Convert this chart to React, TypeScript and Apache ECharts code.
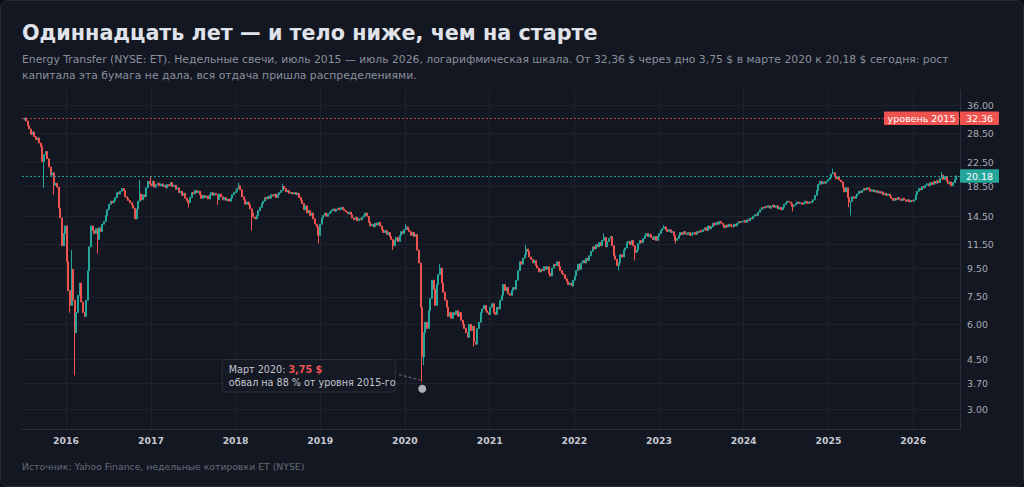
import React, { useEffect, useRef } from 'react';
import * as echarts from 'echarts';

const FONT = "'DejaVu Sans', sans-serif";

// ---- DATA (weekly closes, weeks start on Monday 2015-07-06) ----
const START_DATE = '2015-07-06';
const firstOpen = 31.8;

const closes2015 = [32.36, 31.6, 30.4, 29.6, 28.3, 28.9, 27.8, 27.1, 27.5, 26.4, 25.6, 22.7, 24.0, 24.6, 23.2, 21.7, 20.3, 20.7, 18.7, 19.0, 18.4, 15.5, 14.3, 11.4, 12.6, 13.4];
const closes2016 = [10.0, 7.9, 7.0, 9.4, 7.3, 5.6, 6.6, 7.6, 8.4, 7.2, 6.6, 6.4, 7.3, 9.3, 11.3, 13.4, 12.9, 12.6, 13.1, 12.0, 13.2, 12.8, 13.6, 13.9, 14.6, 15.3, 16.0, 16.4, 16.2, 16.5, 16.9, 17.6, 17.4, 17.8, 18.2, 17.9, 17.0, 16.8, 16.5, 16.2, 15.9, 15.5, 14.2, 15.4, 16.4, 17.4, 16.6, 17.3, 17.0, 18.3, 19.3, 18.9];
const closes2017 = [18.6, 19.3, 18.4, 18.8, 19.0, 18.6, 18.9, 18.5, 18.7, 18.3, 18.8, 18.6, 19.1, 18.5, 18.7, 18.1, 18.3, 17.6, 17.8, 17.2, 17.5, 16.8, 16.5, 16.2, 16.9, 17.6, 17.4, 17.9, 17.6, 17.8, 17.3, 16.8, 17.2, 16.9, 17.1, 16.7, 17.3, 17.6, 17.2, 17.5, 17.3, 16.6, 17.4, 17.0, 16.6, 16.9, 16.5, 16.7, 16.4, 16.8, 17.3, 17.6];
const closes2018 = [17.8, 18.2, 18.6, 18.0, 17.0, 16.6, 16.0, 16.3, 15.9, 15.4, 14.9, 14.4, 14.2, 14.6, 15.2, 15.6, 16.1, 16.4, 16.9, 16.7, 17.1, 16.8, 17.3, 17.1, 17.4, 16.9, 17.3, 17.6, 17.9, 18.5, 18.2, 17.7, 17.9, 17.5, 17.6, 17.4, 17.6, 17.3, 17.5, 16.9, 16.5, 16.1, 15.3, 15.8, 14.9, 15.2, 14.6, 14.9, 14.2, 13.6, 13.3, 12.4, 13.6];
const closes2019 = [14.3, 14.6, 14.9, 14.5, 14.8, 15.0, 15.2, 15.4, 15.1, 15.3, 15.5, 15.3, 15.6, 15.4, 15.2, 15.0, 14.8, 15.0, 14.7, 14.3, 14.1, 14.4, 14.0, 14.2, 14.1, 14.4, 14.6, 14.9, 14.5, 13.8, 13.4, 13.6, 13.3, 13.7, 13.5, 13.8, 13.4, 13.0, 12.7, 12.9, 12.5, 12.7, 12.3, 12.0, 11.4, 11.9, 12.2, 11.8, 12.4, 12.8, 12.6, 13.0];
const closes2020 = [13.3, 13.0, 12.8, 12.4, 12.7, 12.3, 12.5, 11.0, 9.9, 6.9, 4.6, 5.6, 6.1, 5.8, 6.7, 7.4, 8.6, 8.0, 7.0, 8.3, 9.0, 9.5, 8.4, 7.8, 7.3, 6.9, 6.4, 6.6, 6.3, 6.6, 6.5, 6.7, 6.4, 6.6, 6.2, 6.0, 5.8, 5.6, 5.4, 6.0, 5.7, 5.9, 5.2, 5.1, 5.8, 6.1, 6.6, 6.8, 7.0, 6.7, 6.6, 6.5];
const closes2021 = [6.9, 7.1, 6.6, 6.5, 6.9, 6.8, 7.3, 7.6, 8.3, 7.9, 8.1, 7.7, 7.6, 7.9, 8.1, 8.0, 8.6, 9.3, 10.0, 9.8, 10.3, 10.6, 11.1, 10.9, 10.4, 10.2, 9.9, 10.1, 9.7, 9.5, 9.2, 9.4, 9.3, 9.6, 9.4, 9.6, 9.1, 8.9, 9.5, 9.8, 9.7, 10.0, 9.6, 9.3, 9.1, 9.0, 8.7, 8.5, 8.3, 8.4, 8.2, 8.6];
const closes2022 = [8.9, 9.3, 9.8, 9.4, 9.9, 10.1, 9.9, 10.3, 10.1, 10.5, 10.9, 11.3, 11.1, 11.5, 11.3, 11.7, 11.4, 11.9, 12.2, 11.3, 11.8, 12.1, 12.3, 11.4, 10.5, 10.2, 9.7, 9.9, 10.6, 10.4, 11.0, 11.2, 11.7, 11.8, 11.5, 11.9, 11.4, 10.8, 11.0, 11.6, 11.9, 11.7, 12.1, 12.4, 12.6, 12.3, 12.5, 12.2, 12.0, 12.3, 11.9, 12.3];
const closes2023 = [12.6, 12.9, 13.1, 13.3, 13.0, 12.8, 13.0, 12.7, 12.8, 12.4, 11.9, 12.1, 12.4, 12.7, 12.5, 12.8, 12.6, 12.5, 12.7, 12.4, 12.6, 12.7, 12.5, 12.8, 12.7, 12.9, 12.8, 13.0, 13.2, 12.9, 13.4, 13.1, 13.3, 13.7, 13.5, 13.8, 13.6, 13.9, 13.7, 13.5, 13.2, 13.5, 13.3, 13.6, 13.4, 13.3, 13.6, 13.4, 13.7, 13.9, 13.8, 13.9];
const closes2024 = [14.0, 13.8, 14.1, 14.0, 14.3, 14.2, 14.5, 14.7, 14.6, 15.0, 15.3, 15.6, 15.5, 15.7, 15.6, 15.8, 15.5, 15.7, 15.9, 15.6, 15.8, 15.4, 15.6, 15.3, 15.6, 16.0, 16.2, 16.4, 16.3, 16.1, 15.7, 15.9, 16.1, 16.3, 16.1, 16.2, 16.0, 16.2, 16.4, 16.1, 16.3, 16.2, 16.4, 16.6, 17.2, 17.9, 18.8, 19.3, 18.9, 19.2, 19.0, 19.3, 19.6];
const closes2025 = [19.9, 20.5, 20.7, 20.1, 19.7, 20.0, 19.5, 19.2, 18.4, 17.7, 18.3, 16.9, 16.3, 16.4, 17.0, 16.8, 17.1, 17.4, 17.8, 17.6, 17.9, 18.2, 18.0, 18.3, 18.1, 17.8, 18.0, 17.7, 17.9, 17.6, 17.8, 17.5, 17.7, 17.3, 17.5, 17.2, 17.4, 17.1, 16.8, 16.5, 16.8, 16.6, 16.9, 16.7, 16.5, 16.8, 16.6, 16.4, 16.6, 16.3, 16.5, 16.4];
const closes2026 = [16.6, 17.3, 17.8, 18.2, 18.0, 18.5, 18.3, 18.7, 18.9, 18.6, 19.1, 18.8, 19.3, 19.0, 19.4, 19.1, 19.8, 20.3, 19.6, 20.1, 19.3, 18.9, 19.2, 18.6, 19.1, 19.6, 20.18];

// notable wicks beyond the candle bodies
const wickDates = ['2015-09-28', '2015-11-09', '2016-01-18', '2016-01-25', '2016-02-08', '2016-05-16', '2016-11-14', '2017-01-02', '2017-06-12', '2017-10-16', '2018-01-15', '2018-03-12', '2018-07-23', '2018-12-24', '2019-11-11', '2020-01-06', '2020-03-16', '2020-03-23', '2020-06-01', '2020-10-26', '2021-06-07', '2022-05-09', '2022-07-11', '2022-09-19', '2023-01-23', '2023-03-13', '2024-07-29', '2025-01-20', '2025-03-31', '2025-04-07', '2026-05-04'];
const wickLows = [18.3, 17.3, 6.6, null, 3.95, 10.7, null, null, 15.6, 15.9, null, 12.9, null, 11.6, 11.0, null, 3.75, 4.3, null, 5.0, null, null, 9.3, 10.1, null, 11.6, 15.1, null, 15.6, 14.6, null];
const wickHighs = [null, null, null, 11.0, null, null, 19.5, 20.1, null, null, 19.1, null, 18.9, null, null, 13.6, null, null, 9.8, null, 11.5, 12.6, null, null, 13.5, null, null, 21.4, null, null, 20.8];

const yTicks = [3, 3.7, 4.5, 6, 7.5, 9.5, 11.5, 14.5, 18.5, 22.5, 28.5, 36];
const yearTicks = ['2016-01-01', '2017-01-01', '2018-01-01', '2019-01-01', '2020-01-01', '2021-01-01', '2022-01-01', '2023-01-01', '2024-01-01', '2025-01-01', '2026-01-01'];
const level2015 = 32.36;
const lastPrice = 20.18;
const crashLow = 3.75;
const crashDate = '2020-03-16';
const yMin = 2.55;
const yMax = 40.7;
const xMinDate = '2015-06-25';
const xMaxDate = '2026-07-22';

const TITLE = 'Одиннадцать лет — и тело ниже, чем на старте';
const SUBTITLE = 'Energy Transfer (NYSE: ET). Недельные свечи, июль 2015 — июль 2026, логарифмическая шкала. От 32,36 $ через дно 3,75 $ в марте 2020 к 20,18 $ сегодня: рост\nкапитала эта бумага не дала, вся отдача пришла распределениями.';
const SOURCE = 'Источник: Yahoo Finance, недельные котировки ET (NYSE)';

const UP = '#26a69a';
const DOWN = '#ef5350';

const ts = (d: string) => Date.parse(d + 'T00:00:00Z');

function buildCandles() {
  const closes = [
    ...closes2015, ...closes2016, ...closes2017, ...closes2018, ...closes2019, ...closes2020,
    ...closes2021, ...closes2022, ...closes2023, ...closes2024, ...closes2025, ...closes2026,
  ];
  const start = ts(START_DATE);
  const out: any[] = [];
  for (let i = 0; i < closes.length; i++) {
    const t = start + i * 7 * 86400000;
    const key = new Date(t).toISOString().slice(0, 10);
    const open = i === 0 ? firstOpen : closes[i - 1];
    const close = closes[i];
    let low = Math.min(open, close);
    let high = Math.max(open, close);
    const w = wickDates.indexOf(key);
    if (w >= 0) {
      if (wickLows[w] != null) low = Math.min(low, wickLows[w] as number);
      if (wickHighs[w] != null) high = Math.max(high, wickHighs[w] as number);
    }
    out.push([t, open, close, low, high]);
  }
  return out;
}

export default function App() {
  const ref = useRef<HTMLDivElement>(null);

  useEffect(() => {
    document.body.style.margin = '0';
    document.body.style.background = '#0c0f15';
    const chart = echarts.init(ref.current!, null, { renderer: 'svg' });
    const candles = buildCandles();
    const yearTs = yearTicks.map(ts);

    const option: any = {
      animation: false,
      backgroundColor: 'transparent',
      textStyle: { fontFamily: FONT },
      title: [
        {
          text: TITLE,
          subtext: SUBTITLE,
          left: 22,
          top: 22,
          padding: 0,
          itemGap: 8,
          textStyle: { fontFamily: FONT, fontSize: 20.7, fontWeight: 'bold', color: '#e0e3ea' },
          subtextStyle: { fontFamily: FONT, fontSize: 10.8, lineHeight: 16, color: '#8b909c' },
        },
        {
          text: SOURCE,
          left: 22,
          top: 462,
          padding: 0,
          textStyle: { fontFamily: FONT, fontSize: 9.3, fontWeight: 'normal', color: '#666b78' },
        },
      ],
      grid: { left: 22, right: 64, top: 90, bottom: 58 },
      xAxis: {
        type: 'value',
        min: ts(xMinDate),
        max: ts(xMaxDate),
        axisLine: { show: true, onZero: false, lineStyle: { color: '#2a2e39' } },
        axisTick: { show: false, customValues: yearTs },
        axisLabel: {
          customValues: yearTs,
          formatter: (v: number) => String(new Date(v).getUTCFullYear()),
          color: '#c5c8d0',
          fontWeight: 'bold',
          fontSize: 9.3,
          fontFamily: FONT,
          margin: 7,
        },
        splitLine: { show: true, lineStyle: { color: '#1e222d', width: 1 } },
      },
      yAxis: {
        type: 'log',
        position: 'right',
        min: yMin,
        max: yMax,
        axisLine: { show: true, lineStyle: { color: '#2a2e39' } },
        axisTick: { show: false, customValues: yTicks },
        axisLabel: {
          customValues: yTicks,
          formatter: (v: number) => Number(v).toFixed(2),
          color: '#a9acb5',
          fontSize: 9.4,
          fontFamily: FONT,
          margin: 7,
        },
        splitLine: { show: true, lineStyle: { color: '#1e222d', width: 1 } },
      },
      series: [
        {
          type: 'candlestick',
          data: candles,
          barWidth: 1.5,
          itemStyle: { color: UP, color0: DOWN, borderColor: UP, borderColor0: DOWN, borderWidth: 1 },
          markLine: {
            silent: true,
            symbol: ['none', 'none'],
            label: { show: false },
            emphasis: { disabled: true },
            data: [
              { yAxis: level2015, lineStyle: { color: 'rgba(239,83,80,0.75)', type: [2, 2], width: 1 } },
              { yAxis: lastPrice, lineStyle: { color: 'rgba(38,166,154,0.9)', type: [2, 2], width: 1 } },
            ],
          },
        },
        {
          type: 'scatter',
          data: [[ts(crashDate), crashLow]],
          symbolSize: 8,
          symbolOffset: [0, 7],
          itemStyle: { color: '#d5d8df' },
          z: 5,
        },
      ],
    };
    chart.setOption(option);

    const yLevel = chart.convertToPixel({ yAxisIndex: 0 }, level2015) as number;
    const yLast = chart.convertToPixel({ yAxisIndex: 0 }, lastPrice) as number;
    const xRight = chart.convertToPixel({ xAxisIndex: 0 }, ts(xMaxDate)) as number;
    const p = chart.convertToPixel({ gridIndex: 0 }, [ts(crashDate), crashLow]) as number[];
    const lx = p[0];
    const ly = p[1];

    const tag = (y: number, text: string, fill: string) => [
      { type: 'rect', shape: { x: xRight, y: y - 6.5, width: 39, height: 13.5, r: 1 }, style: { fill }, z: 20 },
      {
        type: 'text', z: 21,
        style: { x: xRight + 19.5, y: y + 0.5, text, fill: '#ffffff', fontSize: 9.5, fontFamily: FONT, align: 'center', verticalAlign: 'middle' },
      },
    ];

    chart.setOption({
      graphic: [
        ...tag(yLevel, '32.36', DOWN),
        ...tag(yLast, '20.18', UP),
        { type: 'rect', shape: { x: xRight - 76, y: yLevel - 6.5, width: 75, height: 13.5, r: 1 }, style: { fill: DOWN }, z: 20 },
        {
          type: 'text', z: 21,
          style: { x: xRight - 38.5, y: yLevel + 0.5, text: 'уровень 2015', fill: '#ffffff', fontSize: 9.5, fontFamily: FONT, align: 'center', verticalAlign: 'middle' },
        },
        {
          type: 'rect', z: 20,
          shape: { x: lx - 200, y: ly - 22.3, width: 173, height: 32.5, r: 3 },
          style: { fill: '#151924', stroke: '#2c303b', lineWidth: 1 },
        },
        {
          type: 'text', z: 21,
          style: {
            x: lx - 193.4, y: ly - 12.3,
            text: '{a|Март 2020: }{b|3,75 $}',
            verticalAlign: 'middle',
            rich: {
              a: { fontSize: 9.6, fontFamily: FONT, fill: '#c3c6ce' },
              b: { fontSize: 9.6, fontFamily: FONT, fill: DOWN, fontWeight: 'bold' },
            },
          },
        },
        {
          type: 'text', z: 21,
          style: { x: lx - 193.4, y: ly + 0.4, text: 'обвал на 88 % от уровня 2015-го', fill: '#c3c6ce', fontSize: 9.6, fontFamily: FONT, verticalAlign: 'middle' },
        },
        {
          type: 'line', z: 21,
          shape: { x1: lx - 23.4, y1: ly - 7.3, x2: lx - 2, y2: ly - 1.6 },
          style: { stroke: '#6b7080', lineWidth: 1, lineDash: [3, 2] },
        },
      ],
    });

    return () => chart.dispose();
  }, []);

  return (
    <div style={{ position: 'relative', width: 1024, height: 487, overflow: 'hidden' }}>
      <div style={{ position: 'absolute', left: 0, top: 0, width: 1024, height: 487, background: '#131722', border: '1px solid #262a35', borderRadius: 8, boxSizing: 'border-box' }} />
      <div ref={ref} style={{ position: 'absolute', left: 0, top: 0, width: 1024, height: 487 }} />
    </div>
  );
}
